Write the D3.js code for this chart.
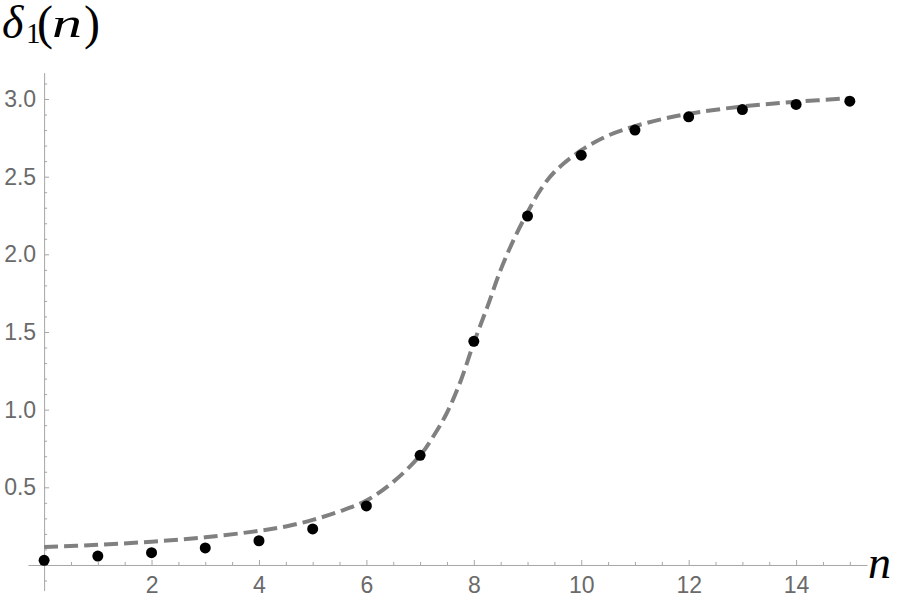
<!DOCTYPE html>
<html>
<head>
<meta charset="utf-8">
<script src="https://cdn.jsdelivr.net/npm/d3@7"></script>
<style>
  html, body { margin: 0; padding: 0; background: #fff; }
  svg { display: block; }
</style>
</head>
<body>
<svg id="chart" width="899" height="602"></svg>
<script>
// ---- data ----
const pointN = [0,1,2,3,4,5,6,7,8,9,10,11,12,13,14,15];
const pointV = [0.03,0.057,0.079,0.11,0.156,0.232,0.38,0.706,1.44,2.246,2.638,2.80,2.885,2.932,2.965,2.986];

const curveN = [0,1,2,3,4,4.5,5,5.5,6,6.5,7,7.25,7.5,7.75,8,8.25,8.5,8.75,9,9.25,9.5,10,10.5,11,11.5,12,13,14,15];
const curveV = [0.115,0.13,0.15,0.178,0.22,0.248,0.29,0.345,0.415,0.535,0.705,0.83,0.98,1.18,1.43,1.66,1.90,2.10,2.27,2.42,2.53,2.67,2.765,2.825,2.87,2.905,2.952,2.982,3.005];

const xMajor = [2,4,6,8,10,12,14];
const xMinor = [0.5,1,1.5,2.5,3,3.5,4.5,5,5.5,6.5,7,7.5,8.5,9,9.5,10.5,11,11.5,12.5,13,13.5,14.5,15];
const yMajor = [0.5,1.0,1.5,2.0,2.5,3.0];
const yMinor = [-0.1,0.1,0.2,0.3,0.4,0.6,0.7,0.8,0.9,1.1,1.2,1.3,1.4,1.6,1.7,1.8,1.9,2.1,2.2,2.3,2.4,2.6,2.7,2.8,2.9,3.1];

// ---- layout ----
const svg = d3.select("#chart");
const x = d3.scaleLinear().domain([-0.3, 15.32]).range([28, 867]);
const y = d3.scaleLinear().domain([-0.165, 3.17]).range([590.6, 72.6]);
const axisColor = "#a6a6a6";
const labelColor = "#6a6a6a";
const tickFont = "'Liberation Sans', Arial, sans-serif";

// x axis (at y = 0)
const gx = svg.append("g").attr("transform", `translate(0,${y(0)})`);
gx.call(d3.axisBottom(x).tickValues(xMinor).tickSize(-3).tickSizeOuter(0).tickFormat(""));
const gxMaj = svg.append("g").attr("transform", `translate(0,${y(0)})`);
gxMaj.call(d3.axisBottom(x).tickValues(xMajor).tickSize(-5).tickSizeOuter(0).tickPadding(12).tickFormat(d3.format("d")));
gxMaj.select(".domain").remove();

// y axis (at x = 0)
const gy = svg.append("g").attr("transform", `translate(${x(0)},0)`);
gy.call(d3.axisLeft(y).tickValues(yMinor).tickSize(-3).tickSizeOuter(0).tickFormat(""));
const gyMaj = svg.append("g").attr("transform", `translate(${x(0)},0)`);
gyMaj.call(d3.axisLeft(y).tickValues(yMajor).tickSize(-5).tickSizeOuter(0).tickPadding(8).tickFormat(d3.format(".1f")));
gyMaj.select(".domain").remove();

svg.selectAll(".domain, .tick line").attr("stroke", axisColor).attr("stroke-width", 1);
svg.selectAll(".tick text")
  .attr("fill", labelColor)
  .style("font-family", tickFont)
  .style("font-size", "23px");

// dashed fit curve
const line = d3.line()
  .x((d, i) => x(curveN[i]))
  .y((d, i) => y(curveV[i]))
  .curve(d3.curveCatmullRom.alpha(0.5));
svg.append("path")
  .datum(curveV)
  .attr("d", line)
  .attr("fill", "none")
  .attr("stroke", "#808080")
  .attr("stroke-width", 4)
  .attr("stroke-dasharray", "14,6");

// points
svg.append("g").selectAll("circle")
  .data(pointV)
  .join("circle")
  .attr("cx", (d, i) => x(pointN[i]))
  .attr("cy", d => y(d))
  .attr("r", 5.5)
  .attr("fill", "#000");

// axis labels
const serif = "'Liberation Serif', 'Times New Roman', serif";
const yl = svg.append("g").style("font-family", serif).attr("fill", "#000");
yl.append("text").attr("x", 2).attr("y", 38).style("font-style", "italic").style("font-size", "46px").text("δ");
yl.append("text").attr("x", 26).attr("y", 43).style("font-size", "29px").text("1");
yl.append("text").attr("x", 37).attr("y", 39).style("font-size", "48px").text("(");
yl.append("text").attr("x", 52).attr("y", 37).style("font-style", "italic").style("font-size", "40px")
  .attr("textLength", 30).attr("lengthAdjust", "spacingAndGlyphs").text("n");
yl.append("text").attr("x", 84).attr("y", 39).style("font-size", "48px").text(")");

svg.append("text")
  .attr("x", 868)
  .attr("y", 578)
  .style("font-family", serif)
  .style("font-style", "italic")
  .style("font-size", "46px")
  .attr("fill", "#000")
  .text("n");
</script>
</body>
</html>
